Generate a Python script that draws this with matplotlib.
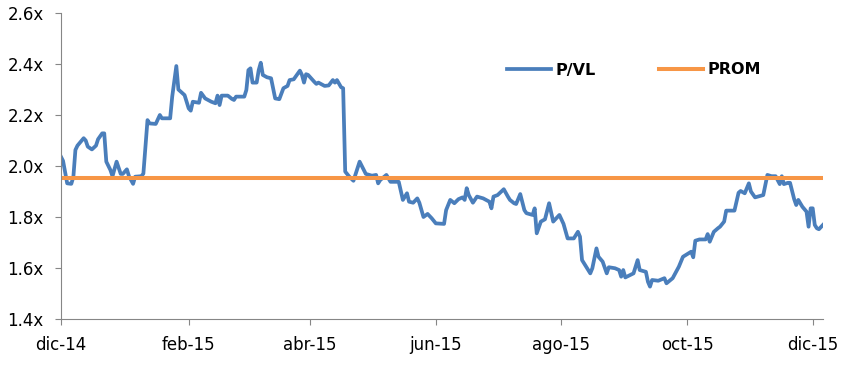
import matplotlib.pyplot as plt
import pandas as pd

# days since 1-dic-14 and P/VL value
dias = [0, 1, 3, 5, 6, 7, 8, 11, 12, 13, 15, 17, 18, 20, 21, 22, 24, 25, 27, 29,
        30, 32, 33, 35, 36, 39, 40, 42, 43, 46, 48, 49, 53, 54, 56, 57, 60, 62, 63, 64,
        67, 68, 70, 73, 75, 76, 77, 78, 81, 83, 84, 85, 89, 90, 91, 92, 93, 95, 96, 97,
        98, 100, 102, 104, 106, 108, 110, 111, 113, 116, 117, 118, 119, 120, 123, 124, 125, 128, 130, 132,
        133, 134, 136, 137, 138, 140, 142, 145, 148, 151, 153, 154, 155, 158, 160, 162, 164, 166, 168, 169,
        171, 173, 174, 176, 178, 180, 182, 186, 187, 189, 191, 193, 195, 196, 197, 198, 200, 202, 205, 208,
        209, 210, 212, 215, 217, 218, 220, 221, 223, 225, 226, 229, 230, 231, 233, 235, 237, 239, 242, 244,
        246, 249, 251, 252, 253, 255, 257, 258, 260, 261, 263, 265, 266, 269, 271, 272, 273, 274, 278, 280,
        281, 284, 285, 286, 287, 290, 293, 294, 297, 299, 300, 302, 306, 307, 308, 310, 313, 314, 315, 317,
        319, 320, 322, 323, 327, 329, 330, 332, 334, 335, 337, 341, 343, 345, 347, 349, 350, 351, 353, 354,
        356, 357, 358, 360, 362, 363, 364, 365, 366, 367, 368, 370]
pvl = [2.036, 2.02, 1.932, 1.93, 1.957, 2.063, 2.08, 2.109, 2.10, 2.076, 2.065, 2.08, 2.105, 2.128, 2.128, 2.017, 1.984, 1.96, 2.017, 1.969,
       1.969, 1.987, 1.96, 1.93, 1.958, 1.96, 1.97, 2.18, 2.167, 2.165, 2.2, 2.187, 2.187, 2.272, 2.392, 2.30, 2.278, 2.226, 2.217, 2.252,
       2.248, 2.287, 2.265, 2.252, 2.246, 2.276, 2.239, 2.276, 2.276, 2.263, 2.259, 2.272, 2.272, 2.298, 2.376, 2.383, 2.327, 2.327, 2.376, 2.405,
       2.357, 2.348, 2.344, 2.265, 2.262, 2.305, 2.314, 2.337, 2.34, 2.374, 2.357, 2.327, 2.36, 2.357, 2.33, 2.322, 2.327, 2.314, 2.316, 2.337,
       2.327, 2.337, 2.309, 2.305, 1.978, 1.958, 1.942, 2.017, 1.969, 1.962, 1.965, 1.932, 1.945, 1.965, 1.938, 1.938, 1.938, 1.867, 1.893, 1.86,
       1.856, 1.873, 1.856, 1.80, 1.812, 1.795, 1.775, 1.773, 1.827, 1.867, 1.854, 1.87, 1.877, 1.867, 1.913, 1.886, 1.856, 1.88, 1.873, 1.86,
       1.834, 1.88, 1.886, 1.909, 1.88, 1.867, 1.854, 1.851, 1.89, 1.827, 1.815, 1.808, 1.834, 1.736, 1.782, 1.791, 1.854, 1.782, 1.808, 1.773,
       1.716, 1.716, 1.742, 1.723, 1.631, 1.605, 1.579, 1.599, 1.677, 1.644, 1.625, 1.579, 1.603, 1.599, 1.592, 1.566, 1.592, 1.563, 1.579, 1.631,
       1.592, 1.585, 1.546, 1.527, 1.553, 1.55, 1.56, 1.54, 1.56, 1.59, 1.605, 1.644, 1.664, 1.642, 1.707, 1.712, 1.712, 1.733, 1.703, 1.742,
       1.756, 1.762, 1.782, 1.825, 1.825, 1.895, 1.902, 1.893, 1.932, 1.90, 1.877, 1.886, 1.965, 1.96, 1.96, 1.929, 1.96, 1.929, 1.934, 1.934,
       1.87, 1.847, 1.867, 1.84, 1.821, 1.762, 1.834, 1.834, 1.769, 1.756, 1.752, 1.769]
prom = 1.953

tick_fechas = ['2014-12-01', '2015-02-01', '2015-04-01', '2015-06-01', '2015-08-01', '2015-10-01', '2015-12-01']
tick_labels = ['dic-14', 'feb-15', 'abr-15', 'jun-15', 'ago-15', 'oct-15', 'dic-15']
y_ticks = [1.4, 1.6, 1.8, 2.0, 2.2, 2.4, 2.6]

fechas = pd.Timestamp('2014-12-01') + pd.to_timedelta(dias, unit='D')

plt.rcParams['font.family'] = 'DejaVu Sans'
fig = plt.figure(figsize=(8.59, 3.77), dpi=100)
ax = fig.add_axes([61/859, 1-319/377, (823-61)/859, (319-13)/377])

ax.plot(fechas, pvl, color='#4A7EBB', lw=2.7, label='P/VL', solid_joinstyle='round')
ax.plot([fechas[0], fechas[-1]], [prom, prom], color='#F79646', lw=2.9, label='PROM')

ax.set_xlim(fechas[0], fechas[-1])
ax.set_ylim(1.4, 2.6)
ax.set_yticks(y_ticks)
ax.set_yticklabels([f'{v:.1f}x' for v in y_ticks])
ax.set_xticks(pd.to_datetime(tick_fechas))
ax.set_xticklabels(tick_labels)

for s in ['top', 'right']:
    ax.spines[s].set_visible(False)
for s in ['left', 'bottom']:
    ax.spines[s].set_color('#868686')
ax.tick_params(colors='#868686', labelcolor='black', labelsize=12, length=4.5)
ax.tick_params(axis='y', pad=8)
ax.tick_params(axis='x', pad=8)

leg = ax.legend(ncol=2, frameon=False, loc='center left',
                bbox_to_anchor=((493-61)/762, 1-(70-13)/306),
                prop={'weight': 'bold', 'size': 11.5}, handlelength=2.7,
                columnspacing=4.0, handletextpad=0.3)

plt.savefig('out.png')
